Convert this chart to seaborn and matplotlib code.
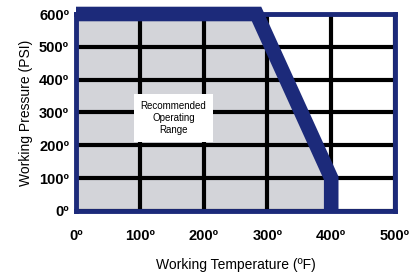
import seaborn as sns
import matplotlib.pyplot as plt
import pandas as pd

# data
temp_f = [0, 283, 400, 400]
pressure_psi = [600, 600, 100, 0]
x_ticks = [0, 100, 200, 300, 400, 500]
y_ticks = [0, 100, 200, 300, 400, 500, 600]
x_labels = ["0º", "100º", "200º", "300º", "400º", "500º"]
y_labels = ["0º", "100º", "200º", "300º", "400º", "500º", "600º"]

df = pd.DataFrame({"temp": temp_f, "pressure": pressure_psi})

navy = "#1c2a7a"
fill_gray = "#d3d4d9"

plt.rcParams["font.family"] = ["Liberation Sans", "DejaVu Sans"]

fig = plt.figure(figsize=(4.14, 2.74), dpi=100)
ax = fig.add_axes([76 / 414, 1 - 211 / 274, (395 - 76) / 414, (211 - 14) / 274])

# gray recommended area
ax.fill_between(df["temp"], df["pressure"], 0, color=fill_gray, lw=0, zorder=1)

# grid
ax.set_axisbelow("line")
ax.grid(True, color="black", lw=3)

# limit curve
sns.lineplot(data=df, x="temp", y="pressure", sort=False, estimator=None,
             color=navy, lw=10.5, ax=ax, zorder=3, clip_on=False)
ax.lines[-1].set_solid_capstyle("butt")
ax.lines[-1].set_solid_joinstyle("miter")

ax.set_xlim(0, 500)
ax.set_ylim(0, 600)
ax.set_xticks(x_ticks, x_labels)
ax.set_yticks(y_ticks, y_labels)
ax.tick_params(length=0, labelsize=10.5)
ax.tick_params(axis="x", pad=13)
ax.tick_params(axis="y", pad=5)
for lab in ax.get_xticklabels() + ax.get_yticklabels():
    lab.set_fontweight("bold")

for s in ax.spines.values():
    s.set_color(navy)
    s.set_linewidth(3.5)
    s.set_zorder(4)

ax.set_xlabel("Working Temperature (ºF)", fontsize=10, labelpad=11)
ax.set_ylabel("Working Pressure (PSI)", fontsize=10, labelpad=4)

ax.text(153, 283, "Recommended\nOperating\nRange", ha="center", va="center",
        fontsize=7, zorder=5, linespacing=1.25,
        bbox=dict(facecolor="white", edgecolor="none", pad=5))

plt.savefig("out.png", dpi=100)
